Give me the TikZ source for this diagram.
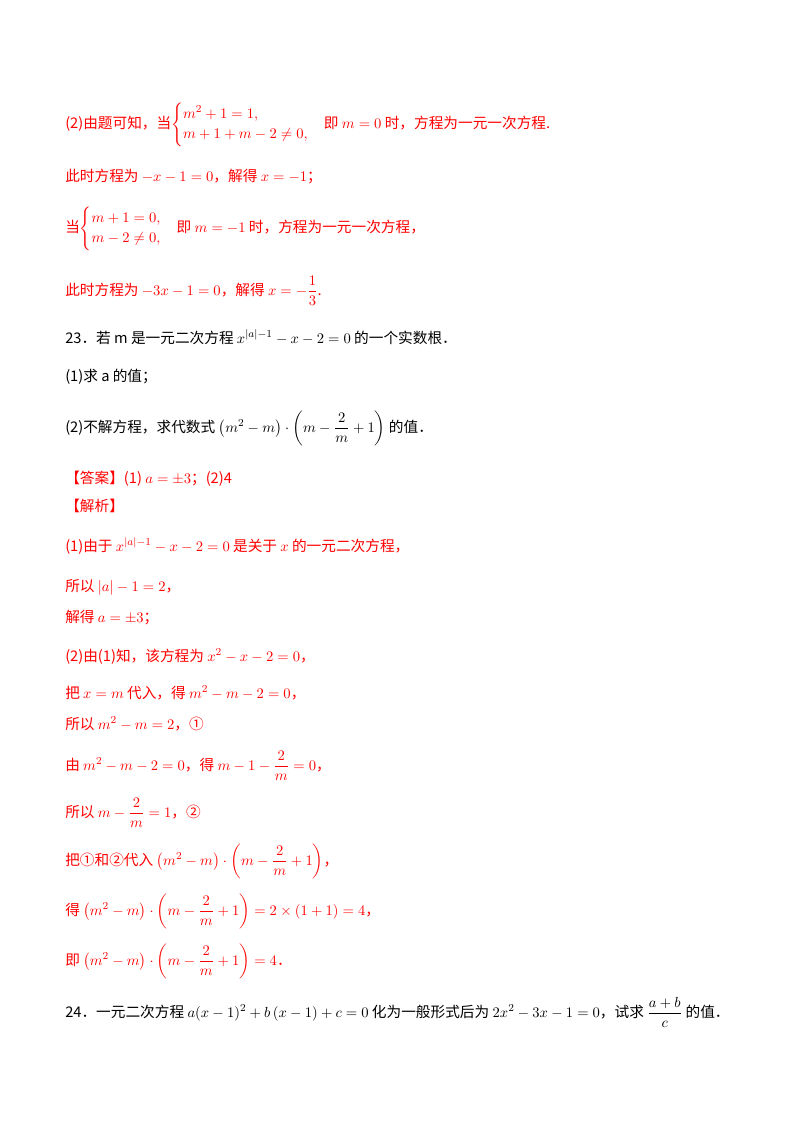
\documentclass[tikz,border=0pt]{standalone}
\usepackage{amsmath}
\usepackage{fontspec}
\setmainfont{Noto Sans CJK SC}
\definecolor{rd}{HTML}{FF0000}
\tikzset{ln/.style={anchor=base west,inner sep=0pt,font=\fontsize{11}{13}\selectfont},
 r/.style={ln,text=rd}}
\begin{document}
\begin{tikzpicture}[x=0.75pt,y=-0.75pt]
\useasboundingbox[fill=white] (0,0) rectangle (800,1132);
\node[r] (l1) at (65,128) {(2)由题可知，当$\begin{cases}m^2+1=1,\\ m+1+m-2\neq0,\end{cases}$即 $m=0$ 时，方程为一元一次方程.};
\node[r] (l2) at (65,181) {此时方程为 $-x-1=0$，解得 $x=-1$；};
\node[r] (l3) at (65,232) {当$\begin{cases}m+1=0,\\ m-2\neq0,\end{cases}$即 $m=-1$ 时，方程为一元一次方程，};
\node[r] (l4) at (65,295) {此时方程为 $-3x-1=0$，解得 $x=-\dfrac{1}{3}$.};
\node[ln] (q1) at (65,343) {23．若 m 是一元二次方程 $x^{|a|-1}-x-2=0$ 的一个实数根．};
\node[ln] (q2) at (65,381) {(1)求 a 的值；};
\node[ln] (q3) at (65,432) {(2)不解方程，求代数式 $\left(m^2-m\right)\cdot\left(m-\dfrac{2}{m}+1\right)$ 的值．};
\node[r] (a1) at (65,483) {【答案】(1) $a=\pm3$；(2)4};
\node[r] (a2) at (65,511) {【解析】};
\node[r] (a3) at (65,551) {(1)由于 $x^{|a|-1}-x-2=0$ 是关于 $x$ 的一元二次方程，};
\node[r] (a4) at (65,591) {所以 $|a|-1=2$，};
\node[r] (a5) at (65,622) {解得 $a=\pm3$；};
\node[r] (a6) at (65,661) {(2)由(1)知，该方程为 $x^2-x-2=0$，};
\node[r] (a7) at (65,698) {把 $x=m$ 代入，得 $m^2-m-2=0$，};
\node[r] (a8) at (65,729) {所以 $m^2-m=2$，①};
\node[r] (a9) at (65,770) {由 $m^2-m-2=0$，得 $m-1-\dfrac{2}{m}=0$，};
\node[r] (a10) at (65,817) {所以 $m-\dfrac{2}{m}=1$，②};
\node[r] (a11) at (65,865) {把①和②代入 $\left(m^2-m\right)\cdot\left(m-\dfrac{2}{m}+1\right)$，};
\node[r] (a12) at (65,915) {得 $\left(m^2-m\right)\cdot\left(m-\dfrac{2}{m}+1\right)=2\times(1+1)=4$，};
\node[r] (a13) at (65,965) {即 $\left(m^2-m\right)\cdot\left(m-\dfrac{2}{m}+1\right)=4$．};
\node[ln] (q4) at (65,1017) {24．一元二次方程 $a(x-1)^2+b\left(x-1\right)+c=0$ 化为一般形式后为 $2x^2-3x-1=0$，试求 $\dfrac{a+b}{c}$ 的值．};
\end{tikzpicture}
\end{document}
